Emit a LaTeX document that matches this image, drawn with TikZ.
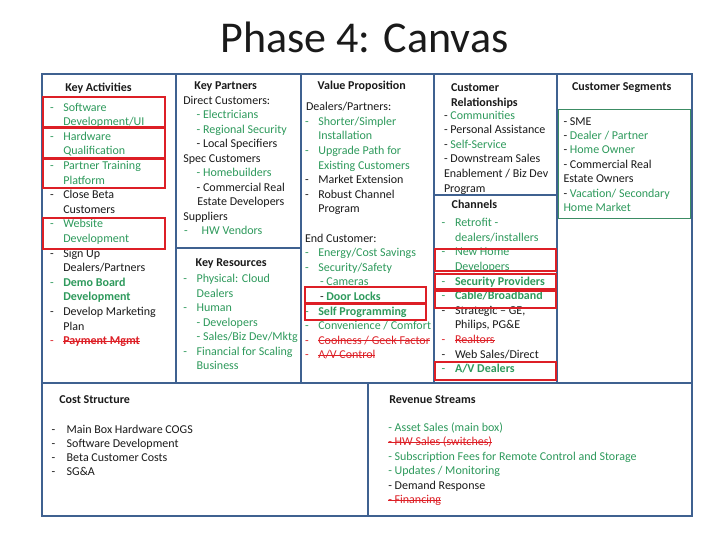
\documentclass[tikz,border=0pt]{standalone}
\usepackage{fontspec}
\setmainfont{Carlito}
\definecolor{frame}{HTML}{3F6190}
\definecolor{gr}{HTML}{2E9A5C}
\definecolor{grl}{HTML}{3C8C64}
\definecolor{rd}{HTML}{DD1F26}
\definecolor{ink}{HTML}{1A1A1A}
\newcommand\dd[1][13.3pt]{\makebox[#1][l]{-}}
\newcommand\stk[1]{\setbox0\hbox{#1}\rlap{\rule[0.26em]{\wd0}{0.7pt}}\box0}
\tikzset{
  txt/.style={anchor=base west,inner sep=0pt,outer sep=0pt,font=\fontsize{12}{14}\selectfont,text=ink},
  hd/.style={anchor=base,inner sep=0pt,outer sep=0pt,font=\fontsize{12}{14}\selectfont\bfseries,text=ink},
  hdl/.style={hd,anchor=base west},
  box/.style={draw=frame,line width=2pt},
  redbox/.style={draw=rd,line width=2pt},
  grbox/.style={draw=grl,line width=1pt}
}
\begin{document}
\begin{tikzpicture}[x=1pt,y=-1pt]
\useasboundingbox[fill=white] (0,0) rectangle (728,546);
% title
\node[anchor=base,inner sep=0pt,font=\fontsize{44}{50}\selectfont,text=ink] (title) at (364.5,52) {Phase 4: Canvas};

% Key Activities
\node[hd] (kah) at (98.5,91.5) {Key Activities};
\node[txt,text=gr] (ka1) at (50,111) {\dd Software};
\node[txt,text=gr] (ka2) at (63.3,125.6) {Development/UI};
\node[txt,text=gr] (ka3) at (50,140.2) {\dd Hardware};
\node[txt,text=gr] (ka4) at (63.3,154.8) {Qualification};
\node[txt,text=gr] (ka5) at (50,169.4) {\dd Partner Training};
\node[txt,text=gr] (ka6) at (63.3,184) {Platform};
\node[txt] (ka7) at (50,198.6) {\dd Close Beta};
\node[txt] (ka8) at (63.3,213.2) {Customers};
\node[txt,text=gr] (ka9) at (50,227.8) {\dd Website};
\node[txt,text=gr] (ka10) at (63.3,242.4) {Development};
\node[txt] (ka11) at (50,257) {\dd Sign Up};
\node[txt] (ka12) at (63.3,271.6) {Dealers/Partners};
\node[txt,text=gr] (ka13) at (50,286.2) {\dd\textbf{Demo Board}};
\node[txt,text=gr] (ka14) at (63.3,300.8) {\textbf{Development}};
\node[txt] (ka15) at (50,315.4) {\dd Develop Marketing};
\node[txt] (ka16) at (63.3,330) {Plan};
\node[txt,text=rd] (ka17) at (50,344.6) {\dd\stk{\textbf{Payment Mgmt}}};

% Key Partners
\node[hd] (kph) at (225.7,89.5) {Key Partners};
\node[txt] (kp1) at (183.3,104) {Direct Customers:};
\node[txt,text=gr] (kp2) at (196.7,118.5) {- Electricians};
\node[txt,text=gr] (kp3) at (196.7,133) {- Regional Security};
\node[txt] (kp4) at (196.7,147.5) {- Local Specifiers};
\node[txt] (kp5) at (183.3,162) {Spec Customers};
\node[txt,text=gr] (kp6) at (196.7,176.5) {- Homebuilders};
\node[txt] (kp7) at (196.7,191) {- Commercial Real};
\node[txt] (kp8) at (197.3,205.5) {Estate Developers};
\node[txt] (kp9) at (183.3,220) {Suppliers};
\node[txt,text=gr] (kp10) at (184,234.5) {\dd[17.7pt]HW Vendors};

% Key Resources
\node[hdl] (krh) at (195.7,266.5) {Key Resources};
\node[txt,text=gr] (kr1) at (183.3,282.6) {\dd Physical: Cloud};
\node[txt,text=gr] (kr2) at (196.7,297.1) {Dealers};
\node[txt,text=gr] (kr3) at (183.3,311.6) {\dd Human};
\node[txt,text=gr] (kr4) at (196.7,326.1) {- Developers};
\node[txt,text=gr] (kr5) at (196.7,340.6) {- Sales/Biz Dev/Mktg};
\node[txt,text=gr] (kr6) at (183.3,355.1) {\dd Financial for Scaling};
\node[txt,text=gr] (kr7) at (196.7,369.6) {Business};

% Value Proposition
\node[hd] (vph) at (361.7,89.5) {Value Proposition};
\node[txt] (vp1) at (306,110.6) {Dealers/Partners:};
\node[txt,text=gr] (vp2) at (305,125.2) {\dd Shorter/Simpler};
\node[txt,text=gr] (vp3) at (318.3,139.8) {Installation};
\node[txt,text=gr] (vp4) at (305,154.4) {\dd Upgrade Path for};
\node[txt,text=gr] (vp5) at (318.3,169) {Existing Customers};
\node[txt] (vp6) at (305,183.6) {\dd Market Extension};
\node[txt] (vp7) at (305,198.2) {\dd Robust Channel};
\node[txt] (vp8) at (318.3,212.8) {Program};
\node[txt] (vp9) at (305,242) {End Customer:};
\node[txt,text=gr] (vp10) at (305,256.6) {\dd Energy/Cost Savings};
\node[txt,text=gr] (vp11) at (305,271.2) {\dd Security/Safety};
\node[txt,text=gr] (vp12) at (320,285.8) {- Cameras};
\node[txt] (vp13) at (320,300.4) {- \textcolor{gr}{\textbf{Door Locks}}};
\node[txt,text=gr] (vp14) at (305,315) {\dd\textbf{Self Programming}};
\node[txt,text=gr] (vp15) at (305,329.6) {\dd Convenience / Comfort};
\node[txt,text=rd] (vp16) at (305,344.2) {\dd\stk{Coolness / Geek Factor}};
\node[txt,text=rd] (vp17) at (305,358.8) {\dd\stk{A/V Control}};

% Customer Relationships
\node[hdl] (crh1) at (451,91.5) {Customer};
\node[hdl] (crh2) at (451,106.3) {Relationships};
\node[txt] (cr1) at (444,119) {- \textcolor{gr}{Communities}};
\node[txt] (cr2) at (444,133.6) {- Personal Assistance};
\node[txt] (cr3) at (444,148.2) {- \textcolor{gr}{Self-Service}};
\node[txt] (cr4) at (444,162.8) {- Downstream Sales};
\node[txt] (cr5) at (444,177.4) {Enablement / Biz Dev};
\node[txt] (cr6) at (444,192) {Program};

% Channels
\node[hdl] (chh) at (451.7,208.5) {Channels};
\node[txt,text=gr] (ch1) at (441.7,226.6) {\dd Retrofit -};
\node[txt,text=gr] (ch2) at (455,241.2) {dealers/installers};
\node[txt,text=gr] (ch3) at (441.7,255.8) {\dd New Home};
\node[txt,text=gr] (ch4) at (455,270.4) {Developers};
\node[txt,text=gr] (ch5) at (441.7,285) {\dd\textbf{Security Providers}};
\node[txt,text=gr] (ch6) at (441.7,299.6) {\dd\textbf{Cable/Broadband}};
\node[txt] (ch7) at (441.7,314.2) {\dd Strategic – GE,};
\node[txt] (ch8) at (455,328.8) {Philips, PG\&E};
\node[txt,text=rd] (ch9) at (441.7,343.4) {\dd\stk{Realtors}};
\node[txt] (ch10) at (441.7,358) {\dd Web Sales/Direct};
\node[txt,text=gr] (ch11) at (441.7,372.6) {\dd\textbf{A/V Dealers}};

% Customer Segments
\node[hd] (csh) at (621.7,90) {Customer Segments};
\node[txt] (cs1) at (563.5,125) {- SME};
\node[txt] (cs2) at (563.5,139.4) {- \textcolor{gr}{Dealer / Partner}};
\node[txt] (cs3) at (563.5,153.8) {- \textcolor{gr}{Home Owner}};
\node[txt] (cs4) at (563.5,168.2) {- Commercial Real};
\node[txt] (cs5) at (563.5,182.6) {Estate Owners};
\node[txt] (cs6) at (563.5,197) {- \textcolor{gr}{Vacation/ Secondary}};
\node[txt,text=gr] (cs7) at (563.5,211.4) {Home Market};

% Cost Structure
\node[hdl] (coh) at (59.3,403.3) {Cost Structure};
\node[txt] (co1) at (51.7,433.3) {\dd[15pt]Main Box Hardware COGS};
\node[txt] (co2) at (51.7,447.5) {\dd[15pt]Software Development};
\node[txt] (co3) at (51.7,461.7) {\dd[15pt]Beta Customer Costs};
\node[txt] (co4) at (51.7,475.9) {\dd[15pt]SG\&A};

% Revenue Streams
\node[hdl] (rvh) at (389.3,403.3) {Revenue Streams};
\node[txt,text=gr] (rv1) at (388.3,431) {- Asset Sales (main box)};
\node[txt,text=rd] (rv2) at (388.3,445.5) {\stk{- HW Sales (switches)}};
\node[txt,text=gr] (rv3) at (388.3,460) {- Subscription Fees for Remote Control and Storage};
\node[txt,text=gr] (rv4) at (388.3,474.5) {- Updates / Monitoring};
\node[txt] (rv5) at (388.3,489) {- Demand Response};
\node[txt,text=rd] (rv6) at (388.3,503.5) {\stk{- Financing}};

% frames
\draw[box] (41.5,73.5) rectangle (175.5,382.5);
\draw[box] (175.5,73.5) rectangle (300.5,247.5);
\draw[box] (175.5,247.5) rectangle (300.5,382.5);
\draw[box] (300.5,73.5) rectangle (433.5,382.5);
\draw[box] (433.5,73.5) rectangle (557,194.5);
\draw[box] (433.5,194.5) rectangle (557,382.5);
\draw[box] (557,73.5) rectangle (692,382.5);
\draw[box] (41.5,382.5) rectangle (367.5,515.5);
\draw[box] (367.5,382.5) rectangle (692,515.5);
\draw[grbox] (558.5,109.5) rectangle (690.5,218.5);

% highlights
\draw[redbox] (42.5,97) rectangle (164.5,126.5);
\draw[redbox] (42.5,128) rectangle (164.5,157.5);
\draw[redbox] (42.5,158.5) rectangle (164.5,188);
\draw[redbox] (42.5,218) rectangle (164.5,248.5);
\draw[redbox] (304.5,287) rectangle (425.5,302.5);
\draw[redbox] (304.5,304) rectangle (426,320);
\draw[redbox] (435,248.5) rectangle (556,270.5);
\draw[redbox] (435,273.5) rectangle (556,288.5);
\draw[redbox] (435,291) rectangle (556,307.5);
\draw[redbox] (435,362) rectangle (556,379.5);
\end{tikzpicture}
\end{document}
